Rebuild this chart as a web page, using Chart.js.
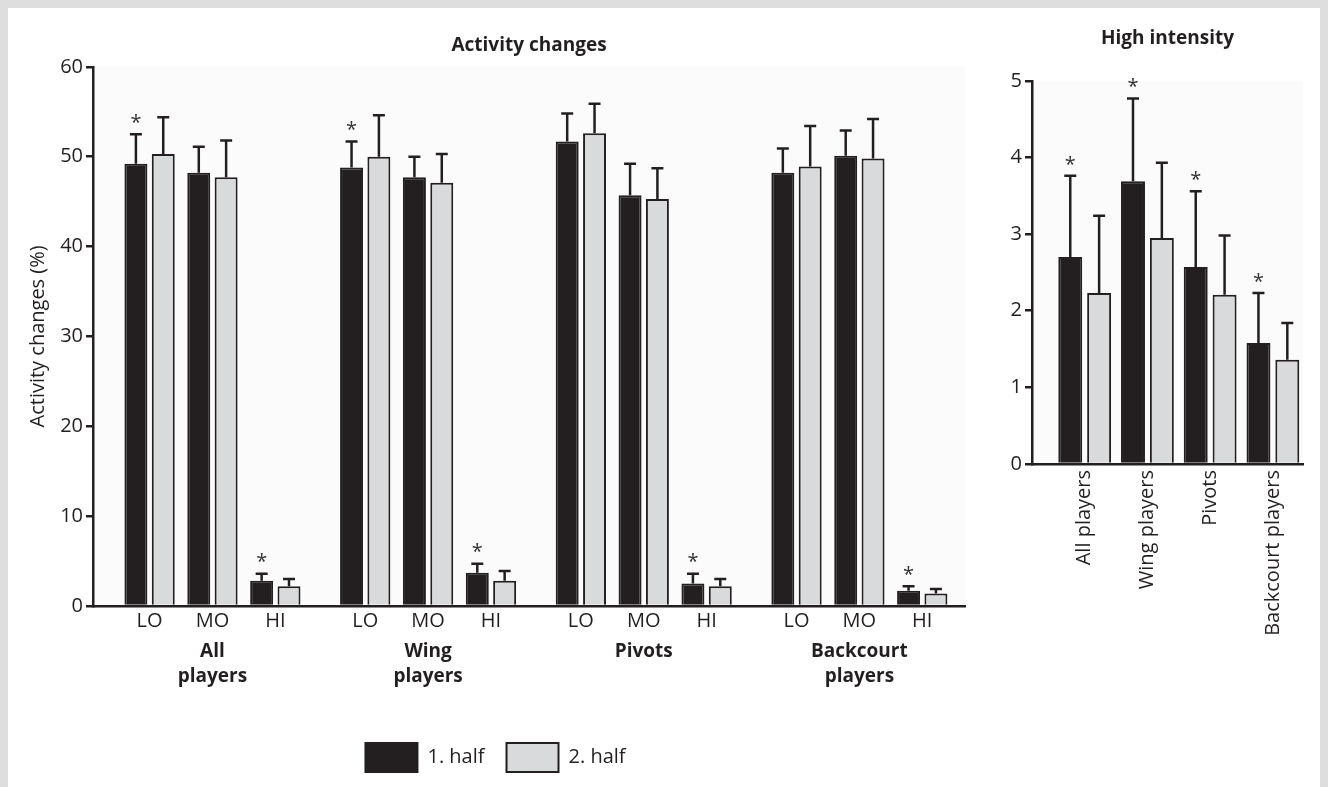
<!DOCTYPE html>
<html>
<head>
<meta charset="utf-8">
<script src="https://cdn.jsdelivr.net/npm/chart.js@4.4.1/dist/chart.umd.min.js"></script>
<style>
  html, body { margin: 0; padding: 0; background: #dedede; overflow: hidden; }
  #page { position: absolute; left: 8px; top: 8px; width: 1312px; height: 790px; background: #fff; }
  #left { position: absolute; left: 26px; top: 0; width: 970px; height: 787px; }
  #right { position: absolute; left: 990px; top: 0; width: 330px; height: 787px; }
</style>
</head>
<body>
<div id="page"></div>
<div id="left"><canvas id="activity"></canvas></div>
<div id="right"><canvas id="high"></canvas></div>
<script>
// activity changes (%), LO / MO / HI for each player group
const groups = [["All", "players"], ["Wing", "players"], ["Pivots"], ["Backcourt", "players"]]
const levels = ["LO", "MO", "HI"]
const half1 = [49.2, 48.2, 2.8, 48.8, 47.7, 3.7, 51.7, 45.7, 2.5, 48.2, 50.1, 1.7]
const half1_sd = [3.3, 2.9, 0.8, 2.9, 2.3, 1.0, 3.1, 3.5, 1.1, 2.7, 2.8, 0.5]
const half2 = [50.3, 47.7, 2.2, 50.0, 47.1, 2.8, 52.6, 45.3, 2.2, 48.9, 49.8, 1.4]
const half2_sd = [4.1, 4.1, 0.8, 4.6, 3.2, 1.1, 3.3, 3.4, 0.8, 4.5, 4.4, 0.5]
const half1_sig = [1, 0, 1, 1, 0, 1, 0, 0, 1, 0, 0, 1]

// high intensity
const hi_labels = ["All players", "Wing players", "Pivots", "Backcourt players"]
const hi_half1 = [2.70, 3.69, 2.57, 1.58]
const hi_half1_sd = [1.06, 1.08, 0.99, 0.65]
const hi_half2 = [2.23, 2.95, 2.21, 1.36]
const hi_half2_sd = [1.01, 0.98, 0.77, 0.48]
const hi_half1_sig = [1, 1, 1, 1]

const ink = "#231f20"
const grey = "#d9dadb"
const family = "'Open Sans', 'Noto Sans', sans-serif"
const group_gap = 0.43

// x position of each bar pair: 3 levels per group, extra gap between groups
let positions = half1.map((v, i) => i + Math.floor(i / 3) * group_gap)
let group_centers = groups.map((g, i) => positions[i * 3 + 1])

const plotBackground = {
    id: "plotBackground",
    beforeDraw(chart) {
        let a = chart.chartArea
        chart.ctx.save()
        chart.ctx.fillStyle = "#fbfbfb"
        chart.ctx.fillRect(a.left, a.top, a.right - a.left, a.bottom - a.top)
        chart.ctx.restore()
    }
}

// upward SD whiskers and asterisks
const errorBars = {
    id: "errorBars",
    afterDatasetsDraw(chart) {
        let ctx = chart.ctx
        let y = chart.scales.y
        ctx.save()
        chart.data.datasets.forEach((ds, di) => {
            let meta = chart.getDatasetMeta(di)
            meta.data.forEach((bar, i) => {
                let top = y.getPixelForValue(ds.data[i].y + ds.sd[i])
                ctx.strokeStyle = ink
                ctx.lineWidth = 2.5
                ctx.beginPath()
                ctx.moveTo(bar.x, bar.y)
                ctx.lineTo(bar.x, top)
                ctx.moveTo(bar.x - 6, top)
                ctx.lineTo(bar.x + 6, top)
                ctx.stroke()
                if (ds.sig && ds.sig[i]) {
                    ctx.fillStyle = "#333"
                    ctx.font = "20px " + family
                    ctx.textAlign = "center"
                    ctx.textBaseline = "bottom"
                    ctx.fillText("*", bar.x, top - 1)
                }
            })
        })
        ctx.restore()
    }
}

Chart.defaults.font.family = family
Chart.defaults.color = ink
Chart.defaults.animation = false

new Chart(document.getElementById("activity").getContext("2d"), {
    type: "bar",
    data: {
        datasets: [{
            label: "1. half",
            backgroundColor: ink,
            borderColor: ink,
            borderWidth: 2,
            data: half1.map((v, i) => ({ x: positions[i], y: v })),
            sd: half1_sd,
            sig: half1_sig
        }, {
            label: "2. half",
            backgroundColor: grey,
            borderColor: ink,
            borderWidth: 2,
            data: half2.map((v, i) => ({ x: positions[i], y: v })),
            sd: half2_sd
        }]
    },
    options: {
        responsive: true,
        maintainAspectRatio: false,
        categoryPercentage: 0.87,
        barPercentage: 0.84,
        layout: { padding: { right: 31, bottom: 5 } },
        plugins: {
            title: {
                display: true,
                text: "Activity changes",
                fullSize: false,
                font: { size: 19, weight: "bold" },
                padding: { top: 34, bottom: 10 }
            },
            legend: {
                position: "bottom",
                labels: {
                    boxWidth: 52,
                    boxHeight: 29,
                    padding: 22,
                    font: { size: 20 },
                    color: ink
                }
            },
            tooltip: { enabled: false }
        },
        scales: {
            x: {
                type: "linear",
                offset: false,
                min: -0.9,
                max: positions[positions.length - 1] + 0.68,
                weight: 0,
                afterBuildTicks: s => { s.ticks = positions.map(v => ({ value: v })) },
                afterFit: s => { s.height = 30 },
                grid: { display: false, drawTicks: false },
                border: { color: ink, width: 2.5 },
                ticks: {
                    autoSkip: false,
                    maxRotation: 0,
                    padding: 3,
                    font: { size: 20 },
                    callback: (v, i) => levels[i % 3]
                }
            },
            x2: {
                type: "linear",
                position: "bottom",
                offset: false,
                min: -0.9,
                max: positions[positions.length - 1] + 0.68,
                weight: 1,
                afterBuildTicks: s => { s.ticks = group_centers.map(v => ({ value: v })) },
                afterFit: s => { s.height = 85 },
                grid: { display: false, drawTicks: false },
                border: { display: false },
                ticks: {
                    autoSkip: false,
                    maxRotation: 0,
                    padding: 3,
                    font: { size: 19, weight: "bold", lineHeight: 1.32 },
                    callback: (v, i) => groups[i]
                }
            },
            y: {
                min: 0,
                max: 60,
                afterFit: s => { s.width = 67 },
                grid: { drawOnChartArea: false, color: ink, lineWidth: 2.5, tickLength: 7 },
                border: { color: ink, width: 2.5 },
                ticks: { stepSize: 10, padding: 3, font: { size: 20 } },
                title: {
                    display: true,
                    text: "Activity changes (%)",
                    font: { size: 20 },
                    padding: { top: 0, bottom: 6 }
                }
            }
        }
    },
    plugins: [plotBackground, errorBars]
})

new Chart(document.getElementById("high").getContext("2d"), {
    type: "bar",
    data: {
        datasets: [{
            label: "1. half",
            backgroundColor: ink,
            borderColor: ink,
            borderWidth: 2,
            data: hi_half1.map((v, i) => ({ x: i, y: v })),
            sd: hi_half1_sd,
            sig: hi_half1_sig
        }, {
            label: "2. half",
            backgroundColor: grey,
            borderColor: ink,
            borderWidth: 2,
            data: hi_half2.map((v, i) => ({ x: i, y: v })),
            sd: hi_half2_sd
        }]
    },
    options: {
        responsive: true,
        maintainAspectRatio: false,
        categoryPercentage: 0.92,
        barPercentage: 0.83,
        layout: { padding: { right: 17 } },
        plugins: {
            title: {
                display: true,
                text: "High intensity",
                fullSize: false,
                font: { size: 19, weight: "bold" },
                padding: { top: 27, bottom: 31 }
            },
            legend: { display: false },
            tooltip: { enabled: false }
        },
        scales: {
            x: {
                type: "linear",
                offset: false,
                min: -0.84,
                max: 3.48,
                afterBuildTicks: s => { s.ticks = hi_labels.map((l, i) => ({ value: i })) },
                afterFit: s => { s.height = 323 },
                grid: { display: false, drawTicks: false },
                border: { color: ink, width: 2.5 },
                ticks: {
                    autoSkip: false,
                    minRotation: 90,
                    maxRotation: 90,
                    padding: 6,
                    font: { size: 20 },
                    callback: (v, i) => hi_labels[i]
                }
            },
            y: {
                min: 0,
                max: 5,
                afterFit: s => { s.width = 42 },
                grid: { drawOnChartArea: false, color: ink, lineWidth: 2.5, tickLength: 7 },
                border: { color: ink, width: 2.5 },
                ticks: { stepSize: 1, padding: 3, font: { size: 20 } }
            }
        }
    },
    plugins: [plotBackground, errorBars]
})
</script>
</body>
</html>
